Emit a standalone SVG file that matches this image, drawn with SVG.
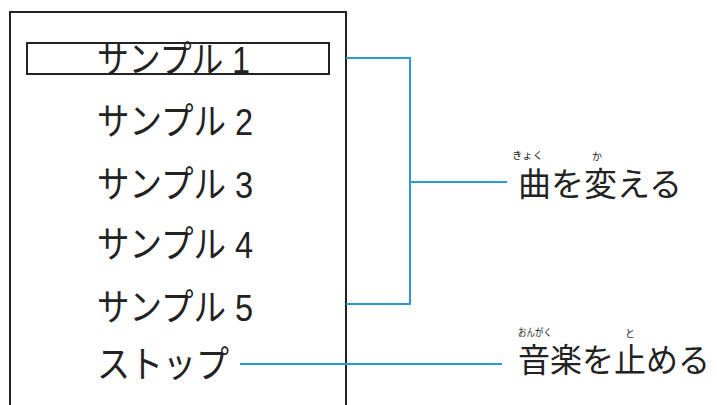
<svg xmlns="http://www.w3.org/2000/svg" width="717" height="405" viewBox="0 0 717 405">
<style>
.frame{fill:none;stroke:#222;stroke-width:2}
.item{font-family:"Liberation Sans","Noto Sans CJK JP",sans-serif;font-size:37px;fill:#222}
.label{font-family:"Liberation Sans","Noto Sans CJK JP",sans-serif;font-size:33px;fill:#222}
.ruby{font-family:"Liberation Sans","Noto Sans CJK JP",sans-serif;font-size:10px;fill:#222}
.conn{fill:none;stroke:#2a9bd0;stroke-width:2}
</style>
<rect width="717" height="405" fill="#fff"/>
<g id="menu">
<path class="frame" d="M10,410 V12 H346 V410"/>
</g>
<g id="item1">
<rect class="frame" x="27" y="43" width="302" height="31"/>
<text class="item" x="97" y="73" textLength="153" lengthAdjust="spacingAndGlyphs">サンプル 1</text>
</g>
<g id="item2"><text class="item" x="97" y="135" textLength="156" lengthAdjust="spacingAndGlyphs">サンプル 2</text></g>
<g id="item3"><text class="item" x="97" y="198" textLength="156" lengthAdjust="spacingAndGlyphs">サンプル 3</text></g>
<g id="item4"><text class="item" x="97" y="258" textLength="156" lengthAdjust="spacingAndGlyphs">サンプル 4</text></g>
<g id="item5"><text class="item" x="97" y="321" textLength="156" lengthAdjust="spacingAndGlyphs">サンプル 5</text></g>
<g id="stop"><text class="item" x="97" y="378" textLength="132" lengthAdjust="spacingAndGlyphs">ストップ</text></g>
<g id="change">
<text class="ruby" x="512" y="159" textLength="31" lengthAdjust="spacingAndGlyphs">きょく</text>
<text class="ruby" x="592" y="160">か</text>
<text class="label" x="518" y="196" textLength="164" lengthAdjust="spacingAndGlyphs">曲を変える</text>
</g>
<g id="stopmusic">
<text class="ruby" x="518" y="336" textLength="34" lengthAdjust="spacingAndGlyphs">おんがく</text>
<text class="ruby" x="625" y="337">と</text>
<text class="label" x="518" y="372" textLength="192" lengthAdjust="spacingAndGlyphs">音楽を止める</text>
</g>
<g id="connectors">
<path class="conn" d="M346,58 H410 V304 H346"/>
<path class="conn" d="M410,182 H507"/>
<path class="conn" d="M240,364 H502"/>
</g>
</svg>
